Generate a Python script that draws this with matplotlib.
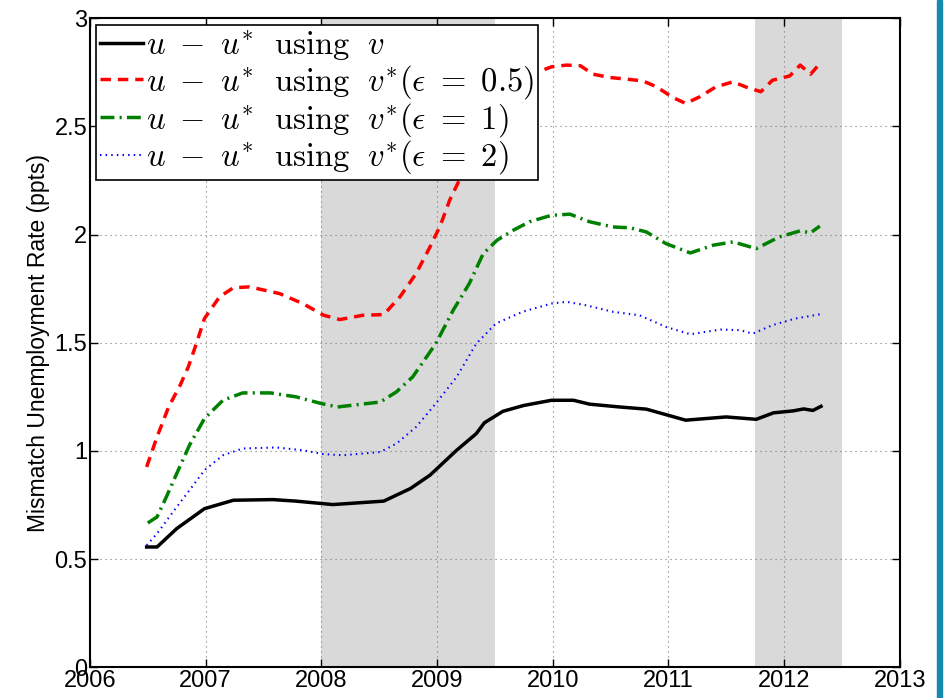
import matplotlib.pyplot as plt
import numpy as np

plt.rcParams['mathtext.fontset'] = 'cm'
plt.rcParams['font.family'] = ['Liberation Sans', 'DejaVu Sans']

# u - u* using v
yr_v = [2006.49, 2006.58, 2006.75, 2006.99, 2007.24, 2007.58, 2007.78, 2008.10, 2008.54,
        2008.77, 2008.94, 2009.17, 2009.34, 2009.41, 2009.57, 2009.75, 2009.99, 2010.18,
        2010.32, 2010.58, 2010.81, 2011.15, 2011.50, 2011.76, 2011.91, 2012.08, 2012.17,
        2012.25, 2012.32]
mis_v = [0.556, 0.556, 0.641, 0.733, 0.772, 0.775, 0.768, 0.752, 0.768,
         0.826, 0.888, 1.003, 1.080, 1.130, 1.183, 1.210, 1.234, 1.234,
         1.216, 1.203, 1.193, 1.142, 1.157, 1.146, 1.176, 1.185, 1.194,
         1.187, 1.206]

# u - u* using v*(eps=0.5)
yr_e05 = [2006.49, 2006.58, 2006.68, 2006.78, 2006.85, 2006.92, 2006.99, 2007.12, 2007.24,
          2007.38, 2007.64, 2007.84, 2008.02, 2008.16, 2008.36, 2008.54, 2008.68, 2008.82,
          2008.94, 2009.03, 2009.11, 2009.20, 2009.40, 2009.60, 2009.85, 2009.99, 2010.12,
          2010.24, 2010.35, 2010.49, 2010.64, 2010.78, 2010.90, 2011.04, 2011.15, 2011.27,
          2011.41, 2011.56, 2011.67, 2011.80, 2011.90, 2012.05, 2012.14, 2012.23, 2012.31]
mis_e05 = [0.926, 1.065, 1.203, 1.304, 1.388, 1.496, 1.612, 1.712, 1.754,
           1.758, 1.727, 1.681, 1.627, 1.607, 1.627, 1.630, 1.712, 1.820,
           1.943, 2.043, 2.159, 2.259, 2.480, 2.660, 2.747, 2.775, 2.783,
           2.780, 2.741, 2.726, 2.718, 2.710, 2.682, 2.633, 2.606, 2.636,
           2.682, 2.706, 2.682, 2.660, 2.713, 2.733, 2.783, 2.741, 2.790]

# u - u* using v*(eps=1)
yr_e1 = [2006.50, 2006.58, 2006.66, 2006.75, 2006.86, 2006.99, 2007.15, 2007.32, 2007.56,
         2007.78, 2008.00, 2008.14, 2008.51, 2008.65, 2008.79, 2008.99, 2009.14, 2009.28,
         2009.40, 2009.52, 2009.66, 2009.80, 2009.99, 2010.15, 2010.32, 2010.52, 2010.67,
         2010.81, 2010.98, 2011.19, 2011.39, 2011.56, 2011.76, 2011.96, 2012.14, 2012.23,
         2012.31]
mis_e1 = [0.667, 0.695, 0.787, 0.895, 1.026, 1.150, 1.234, 1.268, 1.268,
          1.250, 1.219, 1.203, 1.226, 1.273, 1.342, 1.496, 1.650, 1.774,
          1.912, 1.974, 2.020, 2.059, 2.089, 2.094, 2.059, 2.035, 2.031,
          2.012, 1.958, 1.915, 1.951, 1.966, 1.935, 1.989, 2.017, 2.008,
          2.039]

# u - u* using v*(eps=2)
yr_e2 = [2006.49, 2006.58, 2006.75, 2006.86, 2006.99, 2007.15, 2007.32, 2007.61, 2007.84,
         2008.02, 2008.19, 2008.51, 2008.65, 2008.82, 2008.99, 2009.17, 2009.34, 2009.51,
         2009.74, 2009.99, 2010.12, 2010.29, 2010.52, 2010.75, 2010.98, 2011.19, 2011.45,
         2011.62, 2011.73, 2011.90, 2012.10, 2012.32]
mis_e2 = [0.564, 0.618, 0.741, 0.818, 0.911, 0.980, 1.011, 1.016, 1.003,
          0.985, 0.980, 0.995, 1.034, 1.111, 1.219, 1.342, 1.496, 1.589,
          1.643, 1.681, 1.689, 1.673, 1.643, 1.627, 1.573, 1.539, 1.561,
          1.558, 1.542, 1.581, 1.612, 1.632]

recessions = [(2008.0, 2009.5), (2011.75, 2012.5)]

fig = plt.figure(figsize=(9.47, 6.98), dpi=100)
ax = fig.add_axes([0.095, 0.044, 0.855, 0.930])

for start, end in recessions:
    ax.axvspan(start, end, color='#d9d9d9', lw=0, zorder=0)

ax.plot(yr_v, mis_v, color='black', lw=2.5, label=r'$u\ -\ u^{*}\ \ \mathrm{using}\ \ v$')
ax.plot(yr_e05, mis_e05, color='red', lw=2.5, ls=(0, (3, 2)),
        label=r'$u\ -\ u^{*}\ \ \mathrm{using}\ \ v^{*}(\epsilon\ =\ 0.5)$')
ax.plot(yr_e1, mis_e1, color='green', lw=2.5, ls=(0, (4, 1.5, 0.6, 1.5)),
        label=r'$u\ -\ u^{*}\ \ \mathrm{using}\ \ v^{*}(\epsilon\ =\ 1)$')
ax.plot(yr_e2, mis_e2, color='blue', lw=1.5, ls=(0, (0.7, 2.0)),
        label=r'$u\ -\ u^{*}\ \ \mathrm{using}\ \ v^{*}(\epsilon\ =\ 2)$')

ax.set_xlim(2006, 2013)
ax.set_ylim(0, 3)
ax.set_xticks(np.arange(2006, 2014))
ax.set_yticks([0, 0.5, 1, 1.5, 2, 2.5, 3])
ax.set_yticklabels(['0', '0.5', '1', '1.5', '2', '2.5', '3'])
ax.tick_params(direction='in', top=True, right=True, labelsize=17, length=6, width=1, pad=2)
ax.grid(True, color='#777777', ls=(0, (1, 3.5)), lw=0.8)
for s in ax.spines.values():
    s.set_linewidth(1.5)

ax.set_ylabel('Mismatch Unemployment Rate (ppts)', fontsize=16.5, labelpad=3)

leg = ax.legend(loc='upper left', fontsize=23.5, handlelength=1.3, handletextpad=0.1,
                labelspacing=0.0, borderpad=0.12, borderaxespad=0.2, fancybox=False,
                framealpha=1, edgecolor='black')
leg.get_frame().set_linewidth(1.2)

# blue bar at the right edge of the picture
fig.patches.append(plt.Rectangle((0.9895, 0.0), 0.0055, 1.0, transform=fig.transFigure,
                                 color='#1589b0', zorder=5))

fig.savefig('out.png', dpi=100)
